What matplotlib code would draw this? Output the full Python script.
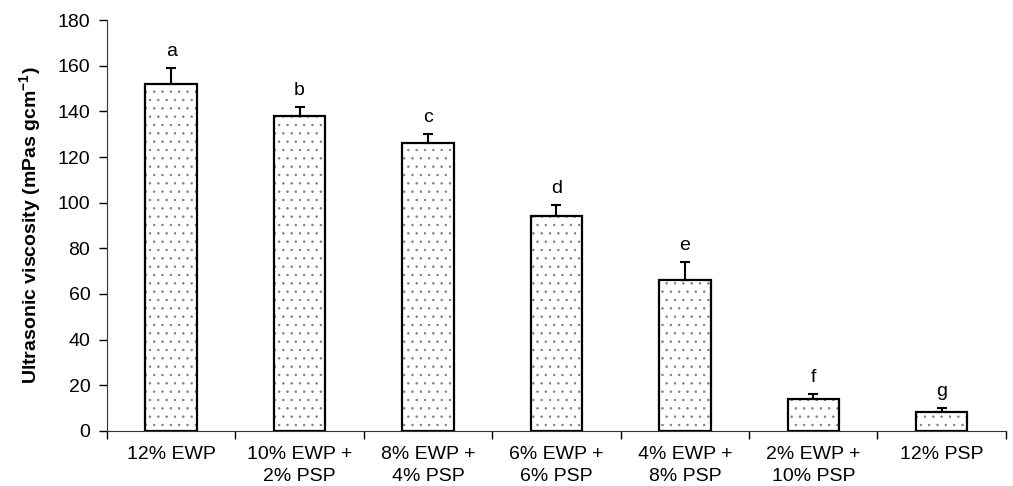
import matplotlib.pyplot as plt
import numpy as np

plt.rcParams["font.family"] = ["Liberation Sans", "DejaVu Sans"]
plt.rcParams["hatch.linewidth"] = 0.5

categories = [
    "12% EWP",
    "10% EWP +\n2% PSP",
    "8% EWP +\n4% PSP",
    "6% EWP +\n6% PSP",
    "4% EWP +\n8% PSP",
    "2% EWP +\n10% PSP",
    "12% PSP",
]
viscosity = [152, 138, 126, 94, 66, 14, 8.5]
errors = [7, 4, 4, 5, 8, 2, 1.5]
letters = ["a", "b", "c", "d", "e", "f", "g"]

fig = plt.figure(figsize=(10.13, 4.86), dpi=100)
ax = fig.add_axes([0.1056, 0.1132, 0.8874, 0.8456])

x = np.arange(len(categories))

# dotted fill first, then a plain black outline on top
ax.bar(x, viscosity, width=0.4, color="white", edgecolor="#7a7a7a",
       hatch="..", linewidth=0, zorder=2)
ax.bar(x, viscosity, width=0.4, color="none", edgecolor="black",
       linewidth=1.6, zorder=3)
ax.errorbar(x, viscosity, yerr=[np.zeros(len(errors)), errors], fmt="none",
            ecolor="black", elinewidth=1.5, capsize=3.5, capthick=1.5, zorder=4)

for xi, v, e, lab in zip(x, viscosity, errors, letters):
    ax.text(xi, v + e + 3.5, lab, ha="center", va="bottom", fontsize=14)

ax.set_xlim(-0.5, len(categories) - 0.5)
ax.set_ylim(0, 180)
ax.set_yticks(np.arange(0, 181, 20))
ax.tick_params(axis="y", labelsize=14, direction="out", length=6, width=1, pad=6)

ax.set_xticks(np.arange(-0.5, len(categories), 1.0))
ax.set_xticklabels([])
ax.set_xticks(x, minor=True)
ax.set_xticklabels(categories, minor=True, fontsize=14, linespacing=1.35)
ax.tick_params(axis="x", which="major", direction="out", length=6, width=1)
ax.tick_params(axis="x", which="minor", length=0, pad=11)

ax.spines["top"].set_visible(False)
ax.spines["right"].set_visible(False)
ax.spines["left"].set_color("#333333")
ax.spines["bottom"].set_color("#333333")

ax.set_ylabel("Ultrasonic viscosity (mPas gcm$^{\\mathregular{-1}}$)",
              fontsize=14, fontweight="bold", labelpad=10)

fig.savefig("out.png", dpi=100)
